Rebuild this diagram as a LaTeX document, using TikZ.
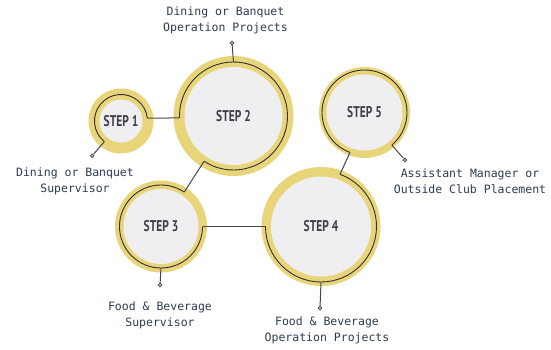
\documentclass[tikz,border=0pt]{standalone}
\usepackage{fontspec}
\usetikzlibrary{calc}
\newfontfamily\capfont{DejaVu Sans Mono}
\newfontfamily\stepfont[FakeStretch=0.74]{PT Sans}
\definecolor{ringyellow}{RGB}{232,213,122}
\definecolor{coregray}{RGB}{239,239,241}
\definecolor{tracedark}{RGB}{48,48,52}
\definecolor{linkgray}{RGB}{70,70,74}
\definecolor{capnavy}{RGB}{44,60,80}
\definecolor{steptext}{RGB}{62,62,70}
\begin{document}
\begin{tikzpicture}[x=1pt,y=1pt,
  ringfill/.style={fill=ringyellow},
  corefill/.style={fill=coregray},
  trace/.style={draw=tracedark,line width=0.9pt},
  link/.style={draw=linkgray,line width=1pt},
  knob/.style={circle,draw=linkgray,fill=white,line width=0.8pt,inner sep=0pt,minimum size=3.6pt},
  caption/.style={align=center,text=capnavy,font=\capfont\fontsize{11.5}{16}\selectfont},
  steplabel/.style={text=steptext,font=\stepfont\bfseries\fontsize{15.5}{16}\selectfont}]
\useasboundingbox (0,0) rectangle (551,349);

% circle centres
\coordinate (c1) at (121,228);
\coordinate (c2) at (233.5,233);
\coordinate (c3) at (161,122.5);
\coordinate (c4) at (321,122.5);
\coordinate (c5) at (364.5,236.5);

% yellow rings and grey cores
\fill[ringfill] (c1) circle[radius=32.5];
\fill[corefill] (c1) circle[radius=21.5];
\fill[ringfill] (c2) circle[radius=60];
\fill[corefill] (c2) circle[radius=49];
\fill[ringfill] (c3) circle[radius=46];
\fill[corefill] (c3) circle[radius=37.5];
\fill[ringfill] (c4) circle[radius=59.5];
\fill[corefill] (c4) circle[radius=50];
\fill[ringfill] (c5) circle[radius=45.5];
\fill[corefill] (c5) circle[radius=38];

% step titles
\node[steplabel] (s1) at (c1) {STEP 1};
\node[steplabel] (s2) at (c2) {STEP 2};
\node[steplabel] (s3) at (c3) {STEP 3};
\node[steplabel] (s4) at (c4) {STEP 4};
\node[steplabel] (s5) at (c5) {STEP 5};

% ends of the inner traces
\coordinate (a1e) at ($(c1)+(6:26.5)$);
\coordinate (a1l) at ($(c1)+(231:26.5)$);
\coordinate (a2w) at ($(c2)+(182:54)$);
\coordinate (a2t) at ($(c2)+(90:54)$);
\coordinate (a2s) at ($(c2)+(237:54)$);
\coordinate (a3n) at ($(c3)+(56:41.5)$);
\coordinate (a3e) at ($(c3)+(0:41.5)$);
\coordinate (a3b) at ($(c3)+(270:41.5)$);
\coordinate (a4w) at ($(c4)+(180:55.5)$);
\coordinate (a4n) at ($(c4)+(70:55.5)$);
\coordinate (a4b) at ($(c4)+(270:55.5)$);
\coordinate (a5s) at ($(c5)+(250:42.5)$);
\coordinate (a5l) at ($(c5)+(-50:42.5)$);

% inner traces
\draw[trace] (a1e) arc[start angle=6,end angle=231,radius=26.5];
\draw[trace] (a2s) arc[start angle=-123,end angle=182,radius=54];
\draw[trace] (a3n) arc[start angle=56,end angle=360,radius=41.5];
\draw[trace] (a4w) arc[start angle=180,end angle=430,radius=55.5];
\draw[trace] (a5l) arc[start angle=-50,end angle=250,radius=42.5];

% connectors between steps
\draw[link] (a1e) -- (a2w);
\draw[link] (a2s) -- (a3n);
\draw[link] (a3e) -- (a4w);
\draw[link] (a4n) -- (a5s);

% leader pins
\node[knob] (d1) at (92.3,193.3) {};
\node[knob] (d2) at (232,306) {};
\node[knob] (d3) at (160,64) {};
\node[knob] (d4) at (320,41) {};
\node[knob] (d5) at (405,189) {};
\draw[link] (a1l) -- (d1);
\draw[link] (a2t) -- (d2);
\draw[link] (a3b) -- (d3);
\draw[link] (a4b) -- (d4);
\draw[link] (a5l) -- (d5);

% captions
\node[caption] (t1) at (75,168) {Dining or Banquet\\Supervisor};
\node[caption] (t2) at (225.5,329) {Dining or Banquet\\Operation Projects};
\node[caption] (t3) at (160,34) {Food \& Beverage\\Supervisor};
\node[caption] (t4) at (327,19) {Food \& Beverage\\Operation Projects};
\node[caption] (t5) at (470,168) {Assistant Manager or\\Outside Club Placement};
\end{tikzpicture}
\end{document}
